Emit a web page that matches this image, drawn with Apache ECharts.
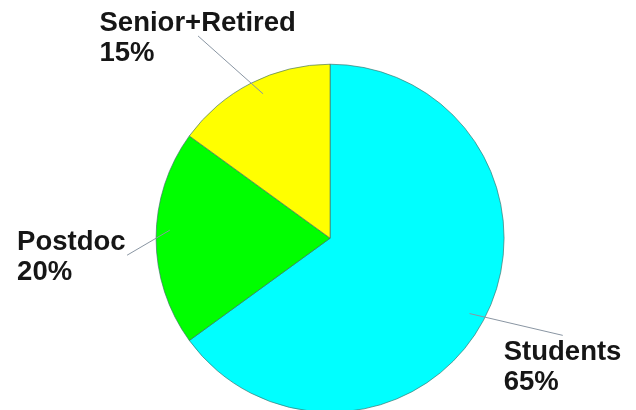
<!DOCTYPE html>
<html>
<head>
<meta charset="utf-8">
<script src="https://cdn.jsdelivr.net/npm/echarts@6/dist/echarts.min.js"></script>
<style>
html,body{margin:0;padding:0;background:#fff;}
#chart{width:636px;height:410px;}
</style>
</head>
<body>
<div id="chart"></div>
<script>
// ---- data ----
const categories = ['Students', 'Postdoc', 'Senior+Retired'];
const values = [65, 20, 15];

// ---- styles ----
const sliceColors = {'Students': '#00FFFF', 'Postdoc': '#00FF00', 'Senior+Retired': '#FFFF00'};
const labelStyle = {
  'Students':       {width: 118, length: 40, length2: 42, shift: [0, 0],  anchor: 'top'},
  'Postdoc':        {width: 109, length: 15, length2: 14, shift: [0, 17], anchor: 'right'},
  'Senior+Retired': {width: 197, length: 53, length2: 29, shift: [0, 0],  anchor: 'middle'}
};
const lineInset = 16;
const pieCenter = ['51.9%', '58.1%'];
const pieRadius = 174;

const sliceData = categories.map((name, i) => ({
  name: name,
  value: values[i],
  itemStyle: {color: sliceColors[name]}
}));
const labelData = categories.map((name, i) => ({
  name: name,
  value: values[i],
  label: {width: labelStyle[name].width},
  labelLine: {length: labelStyle[name].length, length2: labelStyle[name].length2}
}));

const chart = echarts.init(document.getElementById('chart'), null, {renderer: 'canvas'});
chart.setOption({
  animation: false,
  backgroundColor: '#ffffff',
  series: [{
    type: 'pie',
    z: 2,
    center: pieCenter,
    radius: pieRadius,
    startAngle: 90,
    clockwise: true,
    data: sliceData,
    itemStyle: {borderColor: 'rgba(60,110,105,0.65)', borderWidth: 1},
    label: {show: false},
    labelLine: {show: false},
    emphasis: {disabled: true},
    silent: true
  }, {
    type: 'pie',
    z: 3,
    center: pieCenter,
    radius: pieRadius,
    startAngle: 90,
    clockwise: true,
    data: labelData,
    silent: true,
    itemStyle: {color: 'rgba(0,0,0,0)', borderWidth: 0},
    label: {
      show: true,
      position: 'outside',
      formatter: p => p.name + '\n' + p.value + '%',
      fontFamily: '"Liberation Sans", Arial, sans-serif',
      fontWeight: 'bold',
      fontSize: 27.5,
      lineHeight: 30,
      color: '#161616',
      overflow: 'none'
    },
    labelLine: {show: true, smooth: false, lineStyle: {color: '#8a96a3', width: 1}},
    emphasis: {disabled: true},
    labelLayout: function (p) {
      const cfg = labelStyle[categories[p.dataIndex]];
      const pts = p.labelLinePoints;
      if (!pts || !pts.length) return {};
      const P0 = pts[0], Pe = pts[pts.length - 1];
      const E = [Pe[0] + cfg.shift[0], Pe[1] + cfg.shift[1]];
      const vx = E[0] - P0[0], vy = E[1] - P0[1];
      const len = Math.hypot(vx, vy) || 1;
      const S = [P0[0] - vx / len * lineInset, P0[1] - vy / len * lineInset];
      const W = p.labelRect.width;
      let x, y, va;
      if (cfg.anchor === 'top') { x = E[0] - W / 2; y = E[1] + 2; va = 'top'; }
      else if (cfg.anchor === 'right') { x = E[0] - W - 1; y = E[1] + 2; va = 'middle'; }
      else { x = E[0] - W / 2; y = E[1] + 2; va = 'middle'; }
      return {x: x, y: y, align: 'left', verticalAlign: va, labelLinePoints: [S, E]};
    }
  }]
});
</script>
</body>
</html>
